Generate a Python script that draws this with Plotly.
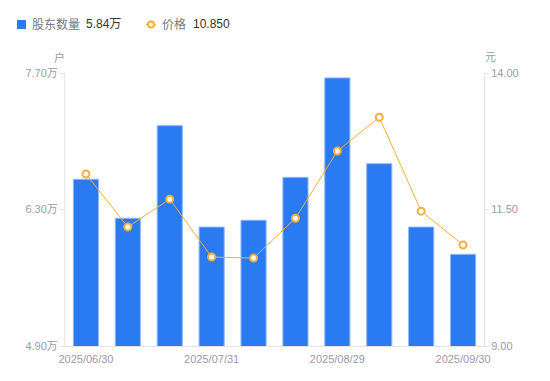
import plotly.graph_objects as go

dates = ["2025/06/30", "2025/07/10", "2025/07/20", "2025/07/31", "2025/08/10",
         "2025/08/20", "2025/08/29", "2025/09/10", "2025/09/19", "2025/09/30"]
holders = [6.61, 6.21, 7.16, 6.12, 6.19, 6.63, 7.65, 6.77, 6.12, 5.84]  # 万户
price = [12.15, 11.18, 11.69, 10.63, 10.61, 11.34, 12.57, 13.19, 11.47, 10.85]

left_ticks = [4.90, 6.30, 7.70]
left_labels = ["4.90万", "6.30万", "7.70万"]
right_ticks = [9.00, 11.50, 14.00]
right_labels = ["9.00", "11.50", "14.00"]
x_ticks = ["2025/06/30", "2025/07/31", "2025/08/29", "2025/09/30"]

W, H = 550, 381
L, R, T, B = 65, 484, 73, 346
FONT = "Liberation Sans, Arial, Noto Sans CJK SC, sans-serif"
BLUE = "#2a7af2"
ORANGE = "#f7ae3a"
GRAY = "#9a9aa8"


def px(x):
    return (x - L) / (R - L)


def py(y):
    return (B - y) / (B - T)


fig = go.Figure()
fig.add_trace(go.Bar(
    x=dates, y=holders, base=0, yaxis="y",
    marker=dict(color=BLUE, line=dict(color="#8fb8f7", width=1)),
    width=0.6, hoverinfo="skip", showlegend=False,
))
fig.add_trace(go.Scatter(
    x=dates, y=price, yaxis="y2", mode="lines+markers",
    line=dict(color=ORANGE, width=1),
    marker=dict(symbol="circle", size=7, color="white",
                line=dict(color=ORANGE, width=2)),
    hoverinfo="skip", showlegend=False,
))

shapes = [
    dict(type="rect", xref="paper", yref="paper",
         x0=px(17), x1=px(26), y0=py(20), y1=py(29),
         fillcolor=BLUE, line=dict(width=0)),
    dict(type="line", xref="paper", yref="paper",
         x0=px(146), x1=px(156), y0=py(24.5), y1=py(24.5),
         line=dict(color=ORANGE, width=1.5)),
    dict(type="circle", xref="paper", yref="paper",
         x0=px(148), x1=px(154), y0=py(21.5), y1=py(27.5),
         fillcolor="white", line=dict(color=ORANGE, width=2)),
]

def ann(x, y, text, color, size, anchor="left"):
    return dict(x=px(x), y=py(y), xref="paper", yref="paper", text=text,
                showarrow=False, xanchor=anchor, yanchor="middle",
                font=dict(family=FONT, size=size, color=color))

annotations = [
    ann(30, 24.5, "股东数量", "#777780", 12),
    ann(84, 24.5, "5.84万", "#333333", 12),
    ann(160, 24.5, "价格", "#777780", 12),
    ann(191, 24.5, "10.850", "#333333", 12),
    ann(59, 57, "户", GRAY, 11, "center"),
    ann(490, 57, "元", GRAY, 11, "center"),
]

fig.update_layout(
    width=W, height=H,
    margin=dict(l=L, r=W - R, t=T, b=H - B, autoexpand=False),
    paper_bgcolor="white", plot_bgcolor="white",
    font=dict(family=FONT, size=11, color=GRAY),
    bargap=0.4,
    xaxis=dict(
        type="category", tickmode="array", tickvals=x_ticks, ticktext=x_ticks,
        range=[-0.5, len(dates) - 0.5], automargin=False,
        showgrid=False, showline=True, linecolor="#e3e3e8", linewidth=1,
        ticks="", tickfont=dict(size=11, color=GRAY), zeroline=False,
        ticklabelstandoff=3,
    ),
    yaxis=dict(
        range=[4.9, 7.7], tickmode="array", tickvals=left_ticks, ticktext=left_labels,
        automargin=False,
        showgrid=False, showline=True, linecolor="#e3e3e8", linewidth=1,
        ticks="outside", ticklen=4, tickcolor="#e3e3e8",
        tickfont=dict(size=11, color=GRAY), zeroline=False,
    ),
    yaxis2=dict(
        range=[9, 14], overlaying="y", side="right", automargin=False,
        tickmode="array", tickvals=right_ticks, ticktext=right_labels,
        showgrid=False, showline=True, linecolor="#e3e3e8", linewidth=1,
        ticks="outside", ticklen=4, tickcolor="#e3e3e8",
        tickfont=dict(size=11, color=GRAY), zeroline=False,
    ),
    shapes=shapes,
    annotations=annotations,
)

fig.write_html(
    "out.html",
    config={"displayModeBar": False, "staticPlot": True},
    post_script="document.body.style.margin='0';document.body.style.overflow='hidden';",
)
